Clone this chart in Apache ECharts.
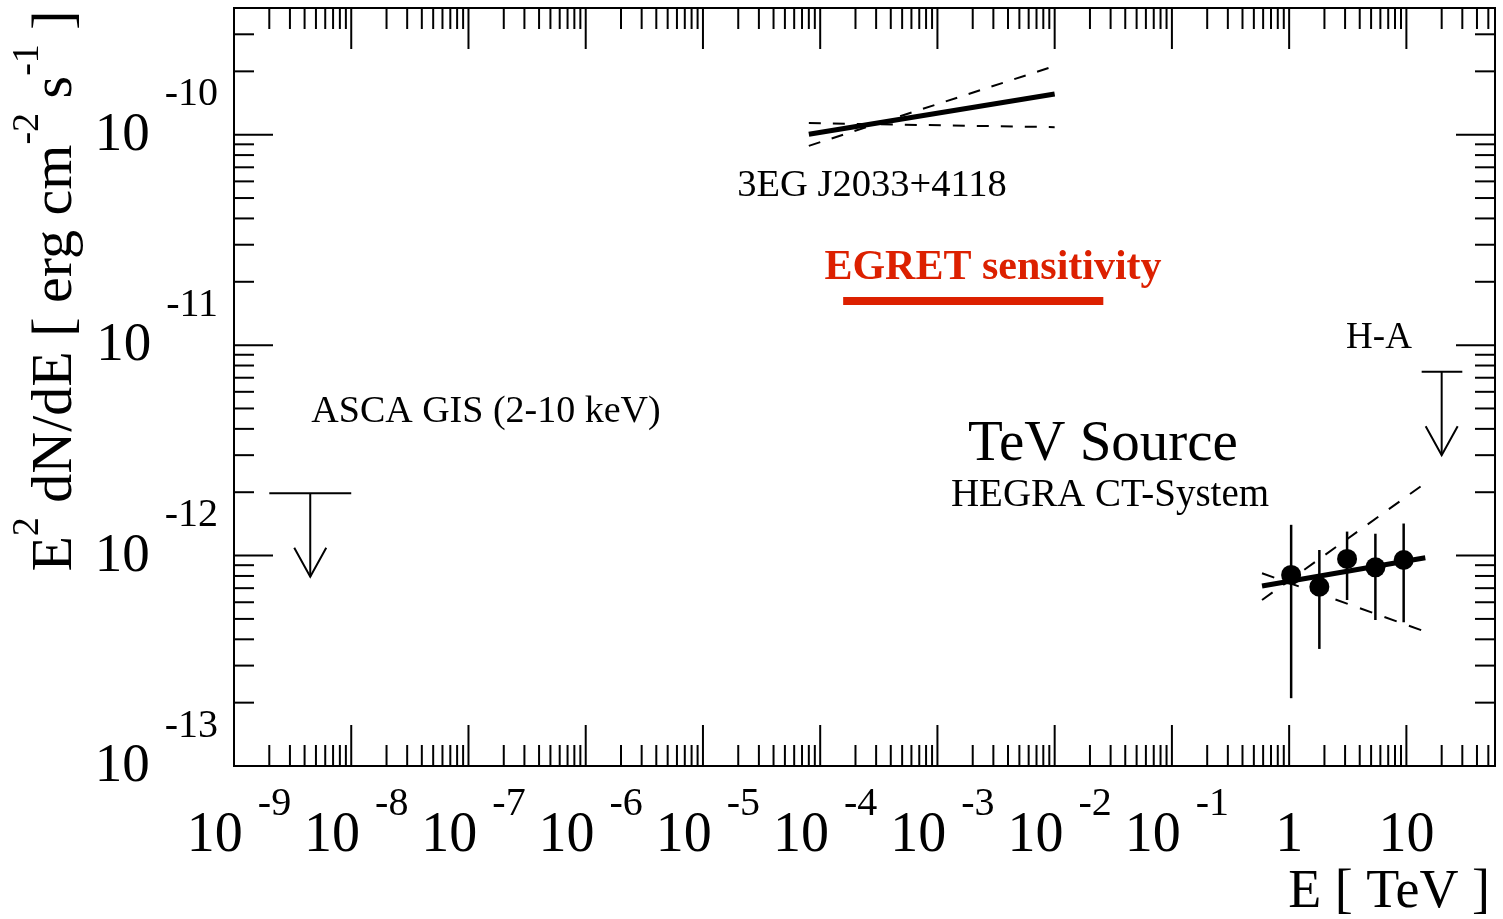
<!DOCTYPE html>
<html><head><meta charset="utf-8">
<script src="https://cdn.jsdelivr.net/npm/echarts@6/dist/echarts.min.js"></script>
<style>html,body{margin:0;padding:0;background:#fff}#c{width:1503px;height:919px}</style>
</head><body><div id="c"></div>
<script>
// ---------- data ----------
const xDecades = [-9,-8,-7,-6,-5,-4,-3,-2,-1,0,1];
const yDecades = [-13,-12,-11,-10];
const xRange = [1e-9, 57];
const yRange = [1e-13, 4e-10];

// 3EG J2033+4118 power-law fit and error bowtie  [E (TeV), E^2 dN/dE]
const egretFit      = [[8e-5, 1.005e-10], [1e-2, 1.56e-10]];
const egretBowHigh  = [[8e-5, 8.85e-11],  [1e-2, 2.12e-10]];
const egretBowLow   = [[8e-5, 1.135e-10], [1e-2, 1.086e-10]];
const egretSensitivity = [[1.57e-4, 1.62e-11], [2.6e-2, 1.62e-11]];

// HEGRA TeV source
const tevE    = [1.04, 1.81, 3.12, 5.44, 9.48];
const tevFlux = [8.09e-13, 7.11e-13, 9.64e-13, 8.79e-13, 9.53e-13];
const tevLow  = [2.10e-13, 3.60e-13, 6.15e-13, 4.94e-13, 4.82e-13];
const tevHigh = [1.40e-12, 1.063e-12, 1.30e-12, 1.27e-12, 1.42e-12];
const tevFit     = [[0.587, 7.17e-13], [14.5, 9.77e-13]];
const tevBowHigh = [[0.587, 6.15e-13], [14.5, 2.21e-12]];
const tevBowLow  = [[0.587, 8.24e-13], [14.5, 4.35e-13]];

// upper limits: [E_min, E_max, E_arrow, flux limit, arrow tip]
const ascaLimit  = [2e-9, 1e-8, 4.47e-9, 1.98e-12, 7.94e-13];
const hegraLimit = [13.5, 30, 20, 7.48e-12, 3.0e-12];

// ---------- chart ----------
const FONT = "'Liberation Serif','DejaVu Serif',serif";
const chart = echarts.init(document.getElementById('c'));

function tickData() {
  const out = [];
  for (let d = xDecades[0]; d <= xDecades[xDecades.length-1]; d++) {
    for (let k = 1; k <= 9; k++) {
      const v = k * Math.pow(10, d);
      if (v >= xRange[0] * 0.999 && v <= xRange[1]) out.push([v, yRange[0], 0, k === 1 ? 1 : 0]);
    }
  }
  for (let d = yDecades[0]; d <= yDecades[yDecades.length-1]; d++) {
    for (let k = 1; k <= 9; k++) {
      const v = k * Math.pow(10, d);
      if (v >= yRange[0] * 0.999 && v < yRange[1] * 0.999) out.push([xRange[0], v, 1, k === 1 ? 1 : 0]);
    }
  }
  return out;
}

function fmtX(value) {
  const l = Math.log10(value), e = Math.round(l);
  if (Math.abs(l - e) > 1e-6) return '';
  if (e === 0) return '{p|1}';
  if (e === 1) return '{p|10}';
  return '{b|10}{s|' + e + '}';
}
function fmtY(value) {
  const l = Math.log10(value), e = Math.round(l);
  if (Math.abs(l - e) > 1e-6) return '';
  return '{b|10}{s|' + e + '}';
}

const lineBase = {type: 'line', symbol: 'none', silent: true, z: 3};

const option = {
  animation: false,
  backgroundColor: '#fff',
  grid: {left: 234, right: 8, top: 8, bottom: 153, show: true, borderColor: '#000', borderWidth: 2},
  xAxis: {
    type: 'log', logBase: 10, min: xRange[0], max: xRange[1],
    axisLine: {show: false}, axisTick: {show: false}, splitLine: {show: false},
    axisLabel: {
      customValues: xDecades.map(d => Math.pow(10, d)),
      margin: 18, color: '#000', fontFamily: FONT, formatter: fmtX,
      rich: {
        b: {fontSize: 56, fontFamily: FONT, color: '#000', verticalAlign: 'bottom', padding: [24, 0, 0, 10]},
        p: {fontSize: 56, fontFamily: FONT, color: '#000', verticalAlign: 'bottom', padding: [24, 0, 0, 0]},
        s: {fontSize: 40, fontFamily: FONT, color: '#000', verticalAlign: 'bottom', padding: [0, 0, 40, 15]}
      }
    }
  },
  yAxis: {
    type: 'log', logBase: 10, min: yRange[0], max: yRange[1],
    axisLine: {show: false}, axisTick: {show: false}, splitLine: {show: false},
    axisLabel: {
      customValues: yDecades.map(d => Math.pow(10, d)),
      margin: 16, color: '#000', fontFamily: FONT, formatter: fmtY,
      rich: {
        b: {fontSize: 55, fontFamily: FONT, color: '#000', verticalAlign: 'bottom', padding: [0, 0, 32, 0]},
        s: {fontSize: 40, fontFamily: FONT, color: '#000', verticalAlign: 'bottom', padding: [0, 0, 80, 15]}
      }
    }
  },
  graphic: [
    {type: 'text', x: 47, y: 291, rotation: Math.PI / 2, silent: true,
     style: {text: '{b|E}{s|2}{b| dN/dE [ erg cm}{s|-2}{b| s}{s|-1}{b| ]}', align: 'center', verticalAlign: 'middle',
       rich: {
         b: {fontSize: 58, fontFamily: FONT, fill: '#000', verticalAlign: 'bottom'},
         s: {fontSize: 38, fontFamily: FONT, fill: '#000', verticalAlign: 'bottom', padding: [0, 0, 37, 0]}
       }}},
    {type: 'text', x: 1490, y: 893, silent: true,
     style: {text: 'E [ TeV ]', fontSize: 54, fontFamily: FONT, fill: '#000', align: 'right', verticalAlign: 'middle'}},
    {type: 'text', x: 872, y: 186, silent: true,
     style: {text: '3EG J2033+4118', fontSize: 38.5, fontFamily: FONT, fill: '#000', align: 'center', verticalAlign: 'middle'}},
    {type: 'text', x: 993, y: 268, silent: true,
     style: {text: 'EGRET sensitivity', fontSize: 42, fontWeight: 'bold', fontFamily: FONT, fill: '#dc2000', align: 'center', verticalAlign: 'middle'}},
    {type: 'text', x: 486, y: 412, silent: true,
     style: {text: 'ASCA GIS (2-10 keV)', fontSize: 38, fontFamily: FONT, fill: '#000', align: 'center', verticalAlign: 'middle'}},
    {type: 'text', x: 1103, y: 445, silent: true,
     style: {text: 'TeV Source', fontSize: 57, fontFamily: FONT, fill: '#000', align: 'center', verticalAlign: 'middle'}},
    {type: 'text', x: 1110, y: 496, silent: true,
     style: {text: 'HEGRA CT-System', fontSize: 39, fontFamily: FONT, fill: '#000', align: 'center', verticalAlign: 'middle'}},
    {type: 'text', x: 1379, y: 338, silent: true,
     style: {text: 'H-A', fontSize: 37, fontFamily: FONT, fill: '#000', align: 'center', verticalAlign: 'middle'}}
  ],
  series: [
    {
      type: 'custom', name: 'ticks', silent: true, z: 2,
      data: tickData(), encode: {x: 0, y: 1},
      renderItem: function (params, api) {
        const cs = params.coordSys;
        const kind = api.value(2), major = api.value(3);
        const style = {stroke: '#000', lineWidth: 2};
        if (kind === 0) {
          const len = major ? 41 : 21;
          const px = api.coord([api.value(0), yRange[0]])[0];
          const b = cs.y + cs.height, t = cs.y;
          return {type: 'group', children: [
            {type: 'line', shape: {x1: px, y1: b, x2: px, y2: b - len}, style: style},
            {type: 'line', shape: {x1: px, y1: t, x2: px, y2: t + len}, style: style}
          ]};
        } else {
          const len = major ? 39 : 20;
          const py = api.coord([xRange[0], api.value(1)])[1];
          const l = cs.x, r = cs.x + cs.width;
          return {type: 'group', children: [
            {type: 'line', shape: {x1: l, y1: py, x2: l + len, y2: py}, style: style},
            {type: 'line', shape: {x1: r, y1: py, x2: r - len, y2: py}, style: style}
          ]};
        }
      }
    },
    Object.assign({}, lineBase, {name: '3EG fit', data: egretFit, lineStyle: {color: '#000', width: 5}}),
    Object.assign({}, lineBase, {name: '3EG bow high', data: egretBowHigh, lineStyle: {color: '#000', width: 2, type: [12, 12]}}),
    Object.assign({}, lineBase, {name: '3EG bow low', data: egretBowLow, lineStyle: {color: '#000', width: 2, type: [12, 12]}}),
    Object.assign({}, lineBase, {name: 'EGRET sensitivity', data: egretSensitivity, lineStyle: {color: '#dc2000', width: 8, cap: 'butt'}}),
    Object.assign({}, lineBase, {name: 'TeV fit', data: tevFit, lineStyle: {color: '#000', width: 5}}),
    Object.assign({}, lineBase, {name: 'TeV bow high', data: tevBowHigh, lineStyle: {color: '#000', width: 2, type: [13, 13]}}),
    Object.assign({}, lineBase, {name: 'TeV bow low', data: tevBowLow, lineStyle: {color: '#000', width: 2, type: [13, 13]}}),
    {
      type: 'custom', name: 'error bars', silent: true, z: 4,
      data: tevE.map((e, i) => [e, tevLow[i], tevHigh[i]]), encode: {x: 0, y: [1, 2]},
      renderItem: function (params, api) {
        const a = api.coord([api.value(0), api.value(1)]);
        const b = api.coord([api.value(0), api.value(2)]);
        return {type: 'line', shape: {x1: a[0], y1: a[1], x2: b[0], y2: b[1]}, style: {stroke: '#000', lineWidth: 2.5}};
      }
    },
    {
      type: 'scatter', name: 'HEGRA', silent: true, z: 5,
      data: tevE.map((e, i) => [e, tevFlux[i]]),
      symbol: 'circle', symbolSize: 20, itemStyle: {color: '#000', opacity: 1}
    },
    {
      type: 'custom', name: 'upper limits', silent: true, z: 4,
      data: [ascaLimit, hegraLimit], encode: {x: [0, 1, 2], y: [3, 4]},
      renderItem: function (params, api) {
        const l = api.coord([api.value(0), api.value(3)]);
        const r = api.coord([api.value(1), api.value(3)]);
        const top = api.coord([api.value(2), api.value(3)]);
        const tip = api.coord([api.value(2), api.value(4)]);
        const hw = 16, hh = 29;
        const style = {stroke: '#000', lineWidth: 2, fill: null};
        return {type: 'group', children: [
          {type: 'line', shape: {x1: l[0], y1: l[1], x2: r[0], y2: r[1]}, style: style},
          {type: 'line', shape: {x1: top[0], y1: top[1], x2: tip[0], y2: tip[1]}, style: style},
          {type: 'polyline', shape: {points: [[tip[0] - hw, tip[1] - hh], [tip[0], tip[1]], [tip[0] + hw, tip[1] - hh]]}, style: style}
        ]};
      }
    }
  ]
};
chart.setOption(option);
</script>
</body></html>
